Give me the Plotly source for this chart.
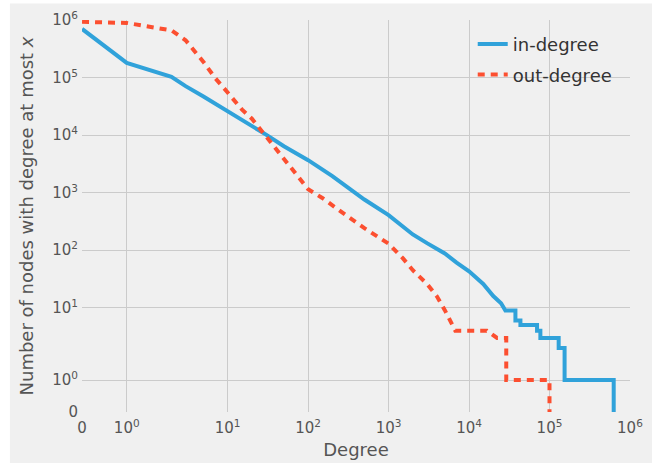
import numpy as np
import plotly.graph_objects as go

# ---- data ----
degree_in = [0, 1, 2, 3, 5, 10, 20, 30, 50, 100, 200, 300, 500, 1000, 1500, 2000,
             3000, 5000, 7000, 10000, 15000, 20000, 25000, 28300, 37700, 37700,
             43500, 43500, 70000, 70000, 77000, 77000, 130000, 130000, 154000,
             154000, 628000, 628000]
count_in = [7.0e5, 1.8e5, 1.03e5, 7.1e4, 4.7e4, 2.65e4, 1.45e4, 1.02e4, 6.4e3, 3.67e3,
            1.94e3, 1.28e3, 760, 407, 260, 188, 133, 88, 61, 43, 26, 16, 12, 9, 9, 6,
            6, 5, 5, 4, 4, 3, 3, 2, 2, 1, 1, 0]

degree_out = [0, 1, 2, 3, 5, 7, 10, 15, 20, 30, 50, 70, 100, 150, 200, 300, 500, 700,
              1000, 1500, 2000, 3000, 4000, 5000, 6000, 6750, 16700, 22300, 29000,
              29000, 100000, 100000]
count_out = [9.3e5, 8.9e5, 6.6e5, 4.45e5, 1.87e5, 9.8e4, 5.5e4, 2.8e4, 1.93e4, 9.6e3,
             3.8e3, 2.1e3, 1.15e3, 810, 596, 399, 242, 180, 130, 73, 45, 26, 15.7, 9.1,
             5.7, 4, 4, 3, 3, 1, 1, 0]

tick_values = [0, 1, 10, 100, 1000, 10000, 100000, 1000000]
tick_labels = ["0", "10<sup>0</sup>", "10<sup>1</sup>", "10<sup>2</sup>", "10<sup>3</sup>",
               "10<sup>4</sup>", "10<sup>5</sup>", "10<sup>6</sup>"]

# ---- symmetric-log scale (matplotlib 'symlog', linthresh=2, linscale=1) ----
LINTHRESH = 2.0
LINSCALE = 1.0
L_ADJ = LINSCALE / (1.0 - 1.0 / 10.0)


def symlog(v):
    v = np.asarray(v, dtype=float)
    a = np.abs(v)
    logpart = np.sign(v) * (L_ADJ + np.log10(np.maximum(a, 1e-300) / LINTHRESH))
    return np.where(a <= LINTHRESH, v * L_ADJ / LINTHRESH, logpart)


lim = float(symlog(1e6))
BLUE = "#30a2da"
RED = "#fc4f30"

fig = go.Figure()
fig.add_trace(go.Scatter(x=symlog(degree_in), y=symlog(count_in), mode="lines",
                         name="in-degree", line=dict(color=BLUE, width=4),
                         legendgroup="a"))
fig.add_trace(go.Scatter(x=symlog(degree_out), y=symlog(count_out), mode="lines",
                         name="out-degree", line=dict(color=RED, width=4, dash="7px,6px"),
                         legendgroup="b"))

axis_common = dict(
    tickmode="array",
    ticks="",
    showgrid=True,
    gridcolor="#cbcbcb",
    gridwidth=1.3,
    zeroline=False,
    showline=False,
    automargin=False,
    tickfont=dict(family="DejaVu Sans", size=15, color="#555555"),
)

fig.update_layout(
    width=652,
    height=465,
    margin=dict(l=82, r=22, t=20, b=53),
    paper_bgcolor="white",
    plot_bgcolor="#f0f0f0",
    font=dict(family="DejaVu Sans", color="#555555"),
    xaxis=dict(range=[-0.0005, lim + 0.0005], tickvals=symlog(tick_values),
               ticktext=tick_labels, ticklabelstandoff=5,
               title=dict(text="Degree", font=dict(size=18, color="#555555"), standoff=7),
               **axis_common),
    yaxis=dict(range=[-0.0005, lim + 0.0005], tickvals=symlog(tick_values),
               ticktext=tick_labels, ticklabelstandoff=3,
               title=dict(text="Number of nodes with degree at most <i>x</i>",
                          font=dict(size=18, color="#555555"), standoff=13),
               **axis_common),
    legend=dict(x=0.713, y=0.985, xanchor="left", yanchor="top",
                bgcolor="rgba(0,0,0,0)", font=dict(size=18, color="#333333"),
                tracegroupgap=4),
    shapes=[dict(type="rect", xref="paper", yref="paper", x0=-0.1315, x1=1.05,
                 y0=-0.13, y1=1.042, fillcolor="#f0f0f0", line=dict(width=0),
                 layer="below")],
)

fig.write_html("out.html", config={"displayModeBar": False},
               post_script="document.body.style.margin='0px';")
